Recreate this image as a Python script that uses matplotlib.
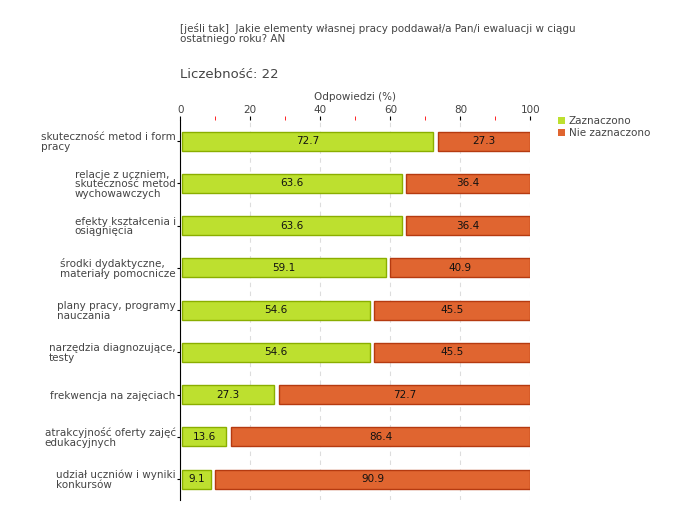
import matplotlib.pyplot as plt
from matplotlib.patches import Patch

categories = ["skuteczność metod i form\npracy",
              "relacje z uczniem,\nskuteczność metod\nwychowawczych",
              "efekty kształcenia i\nosiągnięcia",
              "środki dydaktyczne,\nmateriały pomocnicze",
              "plany pracy, programy\nnauczania",
              "narzędzia diagnozujące,\ntesty",
              "frekwencja na zajęciach",
              "atrakcyjność oferty zajęć\nedukacyjnych",
              "udział uczniów i wyniki\nkonkursów"]
zaznaczono = [72.7, 63.6, 63.6, 59.1, 54.6, 54.6, 27.3, 13.6, 9.1]
nie_zaznaczono = [27.3, 36.4, 36.4, 40.9, 45.5, 45.5, 72.7, 86.4, 90.9]
series_names = ["Zaznaczono", "Nie zaznaczono"]

green, green_edge = "#BDE02F", "#8AAE00"
orange, orange_edge = "#E06530", "#B53A10"
txt = "#444444"

plt.rcParams['font.family'] = ['DejaVu Sans']
fig = plt.figure(figsize=(6.8, 5.2), dpi=100)
ax = fig.add_axes([0.265, 0.038, 0.515, 0.731])

y = list(range(len(categories)))
h = 0.45
for i in y:
    g = zaznaczono[i]
    o = nie_zaznaczono[i]
    ax.barh(i, g - 1.0, left=0.6, height=h, color=green, edgecolor=green_edge, linewidth=1)
    ax.barh(i, o - 1.0, left=100 - o + 0.9, height=h, color=orange, edgecolor=orange_edge, linewidth=1)
    ax.text(0.6 + (g - 1.0) / 2, i, f"{g:.1f}", ha="center", va="center", fontsize=7.5, color="#111111")
    ax.text(100 - o / 2 + 0.4, i, f"{o:.1f}", ha="center", va="center", fontsize=7.5, color="#111111")

ax.set_xlim(0, 100)
ax.set_ylim(len(categories) - 0.5, -0.5)
ax.set_yticks(y)
ax.set_yticklabels(categories, fontsize=7.5, color=txt, ha="left", linespacing=0.95)
ax.tick_params(axis="y", length=2, pad=0, width=0.8)
for lbl in ax.get_yticklabels():
    lbl.set_x(-0.02)
# right-align text block next to axis but left-justify lines
fig.canvas.draw()
for lbl in ax.get_yticklabels():
    lbl.set_horizontalalignment("right")
    lbl.set_multialignment("left")
    lbl.set_x(-0.005)

ax.xaxis.tick_top()
ax.xaxis.set_label_position("top")
ax.set_xticks([0, 20, 40, 60, 80, 100])
ax.set_xticks([10, 30, 50, 70, 90], minor=True)
ax.tick_params(axis="x", which="major", length=3, labelsize=7.5, labelcolor=txt, pad=1, color="black")
ax.tick_params(axis="x", which="minor", length=3, color="red")
ax.set_xlabel("Odpowiedzi (%)", fontsize=7.5, color=txt, labelpad=3)
ax.grid(axis="x", which="major", color="#DDDDDD", linestyle=(0, (4, 4)), linewidth=0.8)
ax.set_axisbelow(True)

for s in ["top", "right", "bottom"]:
    ax.spines[s].set_visible(False)
ax.spines["left"].set_color("black")

fig.text(0.265, 0.955, "[jeśli tak]  Jakie elementy własnej pracy poddawał/a Pan/i ewaluacji w ciągu\nostatniego roku? AN",
         fontsize=7.5, color=txt, va="top", ha="left", linespacing=0.95)
fig.text(0.265, 0.856, "Liczebność: 22", fontsize=9.5, color=txt, va="center", ha="left")

handles = [Patch(facecolor=green, edgecolor="none"), Patch(facecolor=orange, edgecolor="none")]
fig.legend(handles, series_names, loc="upper left", bbox_to_anchor=(0.815, 0.785), frameon=False,
           fontsize=7.5, handlelength=0.6, handleheight=0.6, handletextpad=0.4,
           labelspacing=0.2, borderaxespad=0, labelcolor=txt)

fig.savefig("out.png", dpi=100)
